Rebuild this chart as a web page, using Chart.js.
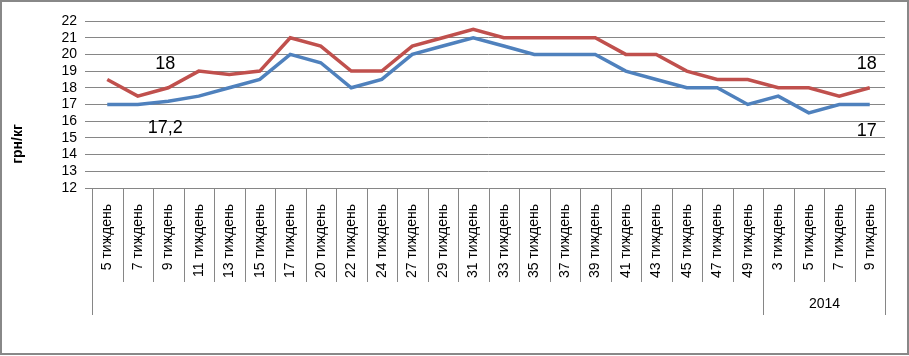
<!DOCTYPE html>
<html><head><meta charset="utf-8">
<script src="https://cdn.jsdelivr.net/npm/chart.js@4/dist/chart.umd.min.js"></script>
<style>html,body{margin:0;padding:0;background:#fff;}#wrap{width:909px;height:356px;position:relative;}</style>
</head><body><div id="wrap"><canvas id="c" width="909" height="356"></canvas></div>
<script>
const categories = ['5 тиждень','7 тиждень','9 тиждень','11 тиждень','13 тиждень','15 тиждень','17 тиждень','20 тиждень','22 тиждень','24 тиждень','27 тиждень','29 тиждень','31 тиждень','33 тиждень','35 тиждень','37 тиждень','39 тиждень','41 тиждень','43 тиждень','45 тиждень','47 тиждень','49 тиждень','3 тиждень','5 тиждень','7 тиждень','9 тиждень'];
const yearGroupLabels = ['', '2014'];
const yearGroupStarts = [0, 22];
const priceMax = [18.5,17.5,18,19,18.8,19,21,20.5,19,19,20.5,21,21.5,21,21,21,21,20,20,19,18.5,18.5,18,18,17.5,18];
const priceMin = [17,17,17.2,17.5,18,18.5,20,19.5,18,18.5,20,20.5,21,20.5,20,20,20,19,18.5,18,18,17,17.5,16.5,17,17];
const yMin = 12, yMax = 22, yStep = 1;
const labeledIndices = [2, 25];
const yTitle = 'грн/кг';

const FONT = '"Liberation Sans", Arial, sans-serif';
const GRID = '#868686';

const decor = {
  id: 'decor',
  beforeDraw(chart) {
    const ctx = chart.ctx;
    ctx.save();
    ctx.fillStyle = '#fff';
    ctx.fillRect(0, 0, chart.width, chart.height);
    ctx.restore();
  },
  afterDraw(chart) {
    const ctx = chart.ctx;
    const xs = chart.scales.x, ys = chart.scales.y;
    const ca = chart.chartArea;
    const n = categories.length;
    const w = xs.getPixelForValue(1) - xs.getPixelForValue(0);
    const boundary = i => Math.round(xs.getPixelForValue(0) - w / 2 + i * w) + 0.5;
    const bottom = Math.round(ca.bottom);
    ctx.save();
    ctx.strokeStyle = GRID; ctx.lineWidth = 1;
    const longIdx = yearGroupStarts.concat([n]);
    for (let i = 0; i <= n; i++) {
      const len = longIdx.includes(i) ? 127 : 94;
      ctx.beginPath();
      ctx.moveTo(boundary(i), bottom);
      ctx.lineTo(boundary(i), bottom + len);
      ctx.stroke();
    }
    // group labels
    ctx.fillStyle = '#000';
    ctx.font = '14px ' + FONT;
    ctx.textAlign = 'center'; ctx.textBaseline = 'middle';
    for (let g = 0; g < yearGroupLabels.length; g++) {
      const s = yearGroupStarts[g];
      const e = g + 1 < yearGroupStarts.length ? yearGroupStarts[g + 1] : n;
      if (!yearGroupLabels[g]) continue;
      ctx.fillText(yearGroupLabels[g], (boundary(s) + boundary(e)) / 2, bottom + 116);
    }
    // data labels
    ctx.font = '18px ' + FONT;
    const fmt = v => String(v).replace('.', ',');
    labeledIndices.forEach(i => {
      const px = xs.getPixelForValue(i) - 3;
      ctx.fillText(fmt(priceMax[i]), px, ys.getPixelForValue(priceMax[i]) - 24);
      ctx.fillText(fmt(priceMin[i]), px, ys.getPixelForValue(priceMin[i]) + 27);
    });
    // y title
    ctx.save();
    ctx.translate(18, ca.top + 123);
    ctx.rotate(-Math.PI / 2);
    ctx.font = 'bold 14px ' + FONT;
    ctx.fillText(yTitle, 0, 0);
    ctx.restore();
    // frame
    ctx.strokeStyle = '#888888'; ctx.lineWidth = 2;
    ctx.strokeRect(1, 1, chart.width - 2, chart.height - 3);
    ctx.restore();
  }
};

new Chart(document.getElementById('c'), {
  type: 'line',
  data: {
    labels: categories,
    datasets: [
      { data: priceMax, borderColor: '#C0504D', borderWidth: 3.5, pointRadius: 0, tension: 0, fill: false },
      { data: priceMin, borderColor: '#4F81BD', borderWidth: 3.5, pointRadius: 0, tension: 0, fill: false }
    ]
  },
  options: {
    responsive: false,
    animation: false,
    devicePixelRatio: 1,
    layout: { padding: { top: 21, right: 24, left: 0, bottom: 0 } },
    plugins: { legend: { display: false }, tooltip: { enabled: false } },
    scales: {
      x: {
        offset: true,
        grid: { display: false },
        border: { display: false },
        ticks: { autoSkip: false, minRotation: 90, maxRotation: 90, color: '#000', font: { family: FONT, size: 14 }, padding: 8 },
        afterFit: s => { s.height = 168; }
      },
      y: {
        min: yMin, max: yMax,
        grid: { color: GRID, lineWidth: 1, tickLength: 7, drawTicks: true },
        border: { display: false },
        ticks: { stepSize: yStep, autoSkip: false, color: '#000', font: { family: FONT, size: 14 }, padding: 8 },
        afterFit: s => { s.width = 92; }
      }
    }
  },
  plugins: [decor]
});
</script></body></html>
